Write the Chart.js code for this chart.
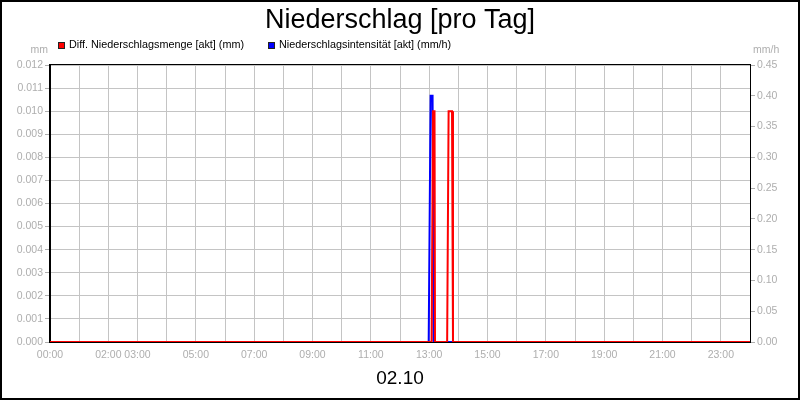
<!DOCTYPE html>
<html>
<head>
<meta charset="utf-8">
<title>Niederschlag [pro Tag]</title>
<script src="https://cdn.jsdelivr.net/npm/chart.js@4.4.1/dist/chart.umd.min.js"></script>
<style>
  html, body { margin: 0; padding: 0; background: #fff; }
  #wrap { width: 800px; height: 400px; }
</style>
</head>
<body>
<div id="wrap"><canvas id="niederschlagChart" width="800" height="400"></canvas></div>
<script>
// Daten (Zeit in Minuten seit 00:00)
const xTickLabels = ['00:00', '02:00', '03:00', '05:00', '07:00', '09:00', '11:00', '13:00', '15:00', '17:00', '19:00', '21:00', '23:00'];
const mengeTimes = [0, 785, 788, 791, 792, 817, 820, 827, 829, 1440];
const mengeValues = [0, 0, 0.010, 0.010, 0, 0, 0.010, 0.010, 0, 0];
const intensTimes = [0, 779, 783, 787, 789, 1440];
const intensValues = [0, 0, 0.40, 0.40, 0, 0];
const dateLabel = '02.10';

const grau = '#aeaeae';
const gitter = '#c4c4c4';
Chart.defaults.font.family = "'Liberation Sans', Arial, sans-serif";

function toPoints(times, values) {
    return times.map((t, i) => ({ x: t, y: values[i] }));
}

// Rahmen, Einheiten und Legende selbst zeichnen
const rahmenPlugin = {
    id: 'rahmen',
    beforeDraw(chart) {
        const ctx = chart.ctx;
        ctx.save();
        ctx.fillStyle = '#fff';
        ctx.fillRect(0, 0, chart.width, chart.height);
        ctx.restore();
    },
    beforeDatasetsDraw(chart) {
        const a = chart.chartArea;
        const ctx = chart.ctx;
        ctx.save();
        ctx.strokeStyle = '#000';
        ctx.lineWidth = 1;
        ctx.strokeRect(Math.round(a.left) - 0.5, Math.round(a.top) - 0.5, a.right - a.left + 1, a.bottom - a.top + 1);
        ctx.restore();
    },
    afterDraw(chart) {
        const a = chart.chartArea;
        const ctx = chart.ctx;
        ctx.save();
        // Außenrahmen
        ctx.strokeStyle = '#000';
        ctx.lineWidth = 2;
        ctx.strokeRect(1, 1, chart.width - 2, chart.height - 2);

        // Einheiten
        ctx.font = "10.5px 'Liberation Sans', Arial, sans-serif";
        ctx.fillStyle = grau;
        ctx.textBaseline = 'middle';
        ctx.textAlign = 'right';
        ctx.fillText('mm', a.left - 2, 50);
        ctx.textAlign = 'left';
        ctx.fillText('mm/h', a.right + 3, 50);

        // Legende
        ctx.font = "10.8px 'Liberation Sans', Arial, sans-serif";
        let x = 58;
        chart.data.datasets.forEach(ds => {
            ctx.fillStyle = ds.borderColor;
            ctx.fillRect(x, 42, 7, 7);
            ctx.strokeStyle = '#222';
            ctx.lineWidth = 1;
            ctx.strokeRect(x + 0.5, 42.5, 6, 6);
            ctx.fillStyle = '#000';
            ctx.textAlign = 'left';
            ctx.fillText(ds.label, x + 11, 45.5);
            x += 11 + ctx.measureText(ds.label).width + 24;
        });
        ctx.restore();
    }
};

const ctx = document.getElementById('niederschlagChart').getContext('2d');
const niederschlagChart = new Chart(ctx, {
    type: 'line',
    data: {
        datasets: [{
            label: 'Diff. Niederschlagsmenge [akt] (mm)',
            data: toPoints(mengeTimes, mengeValues),
            borderColor: '#ff0000',
            backgroundColor: '#ff0000',
            borderWidth: 2,
            pointRadius: 0,
            tension: 0,
            yAxisID: 'yMenge'
        }, {
            label: 'Niederschlagsintensität [akt] (mm/h)',
            data: toPoints(intensTimes, intensValues),
            borderColor: '#0000ff',
            backgroundColor: '#0000ff',
            borderWidth: 2,
            pointRadius: 0,
            tension: 0,
            yAxisID: 'yIntens'
        }]
    },
    options: {
        responsive: false,
        animation: false,
        devicePixelRatio: 1,
        layout: { padding: 0 },
        scales: {
            x: {
                type: 'linear',
                min: 0,
                max: 1440,
                afterFit(scale) { scale.height = 58; },
                grid: { color: gitter, drawTicks: false },
                border: { color: '#000' },
                ticks: {
                    stepSize: 60,
                    autoSkip: false,
                    maxRotation: 0,
                    padding: 7,
                    color: grau,
                    font: { size: 10.5 },
                    callback: function(value) {
                        const h = Math.round(value / 60);
                        const s = (h < 10 ? '0' : '') + h + ':00';
                        return xTickLabels.includes(s) ? s : '';
                    }
                },
                title: {
                    display: true,
                    text: dateLabel,
                    color: '#000',
                    font: { size: 19 },
                    padding: { top: 0, bottom: 10 }
                }
            },
            yMenge: {
                position: 'left',
                min: 0,
                max: 0.012,
                afterFit(scale) { scale.width = 50; },
                grid: { color: gitter, tickColor: grau, tickLength: 5 },
                border: { color: '#000' },
                ticks: {
                    stepSize: 0.001,
                    padding: 2,
                    color: grau,
                    font: { size: 10.5 },
                    callback: v => v.toFixed(3)
                }
            },
            yIntens: {
                position: 'right',
                min: 0,
                max: 0.45,
                afterFit(scale) { scale.width = 50; },
                grid: { drawOnChartArea: false, tickColor: grau, tickLength: 5 },
                border: { color: '#000' },
                ticks: {
                    stepSize: 0.05,
                    padding: 2,
                    color: grau,
                    font: { size: 10.5 },
                    callback: v => v.toFixed(2)
                }
            }
        },
        plugins: {
            legend: { display: false },
            tooltip: { enabled: false },
            title: {
                display: true,
                text: 'Niederschlag [pro Tag]',
                color: '#000',
                font: { size: 27, weight: 'normal' },
                padding: { top: 4, bottom: 28.6 }
            }
        }
    },
    plugins: [rahmenPlugin]
});
</script>
</body>
</html>
